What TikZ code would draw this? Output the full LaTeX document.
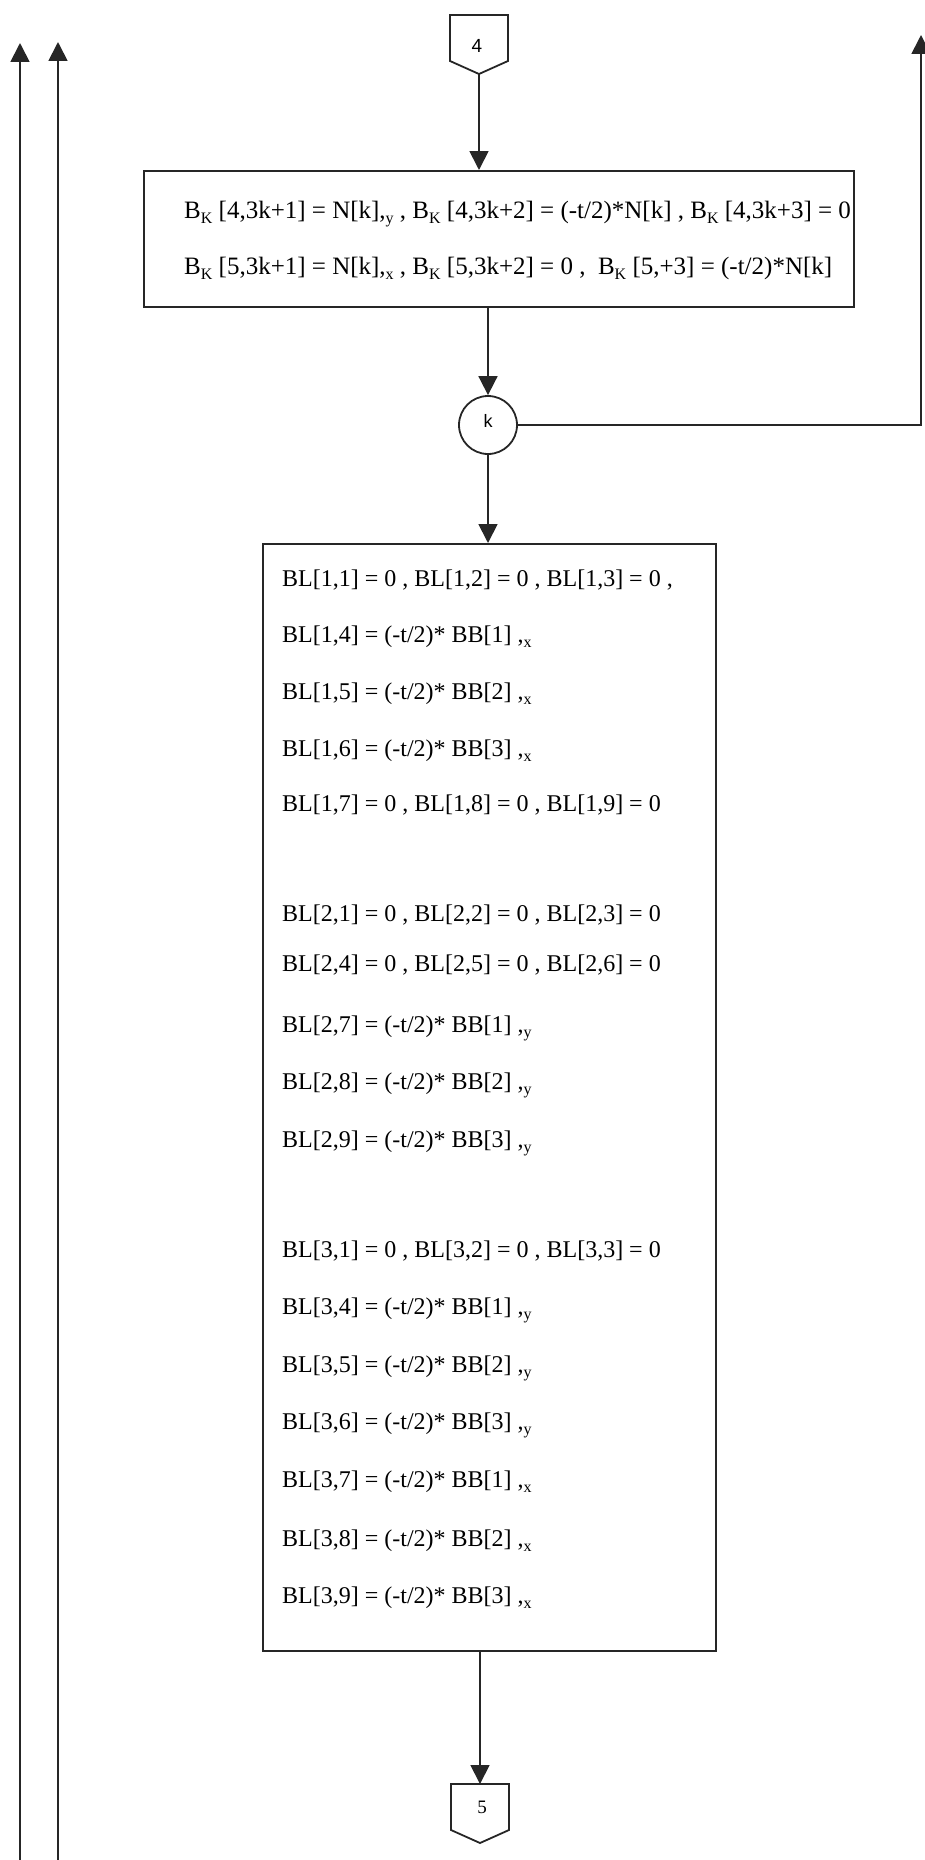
\documentclass[tikz,border=0pt]{standalone}
\usepackage{fontspec}
\setmainfont{Liberation Serif}
\newfontfamily\sansf{Liberation Sans}
\usetikzlibrary{arrows.meta}
\newcommand\lsub[1]{\raisebox{-5pt}{\fontsize{16pt}{16pt}\selectfont #1}}
\begin{document}
\begin{tikzpicture}[x=1pt,y=-1pt,
  flow/.style={line width=1.8pt, draw=black!85},
  arr/.style={flow, -{Triangle[length=19pt,width=19pt]}},
  boxst/.style={draw=black!85, line width=1.8pt, inner sep=0pt, anchor=north west},
  txt/.style={anchor=base west, inner sep=0pt, font=\fontsize{24pt}{28pt}\selectfont},
  lbl/.style={inner sep=0pt, font=\fontsize{19pt}{22pt}\selectfont}]
\useasboundingbox (0,0) rectangle (924,1860);

% connector 4
\draw[flow, line join=miter] (450,15) -- (508,15) -- (508,61) -- (479,74) -- (450,61) -- cycle;
\node[lbl, font=\sansf\fontsize{19pt}{22pt}\selectfont] (p4) at (477,46) {4};
\coordinate (p4s) at (479,74);

% box 1
\node[boxst, minimum width=710pt, minimum height=136pt] (box1) at (143,170) {};
\node[txt, font=\fontsize{25pt}{28pt}\selectfont] (b1) at (184,218) {B\lsub{K} [4,3k+1] = N[k],\lsub{y} , B\lsub{K} [4,3k+2] = (-t/2)*N[k] , B\lsub{K} [4,3k+3] = 0};
\node[txt, font=\fontsize{25pt}{28pt}\selectfont] (b2) at (184,274) {B\lsub{K} [5,3k+1] = N[k],\lsub{x} , B\lsub{K} [5,3k+2] = 0 ,\ \ B\lsub{K} [5,+3] = (-t/2)*N[k]};

% circle k
\node[draw=black!85, line width=1.8pt, circle, minimum size=58pt, inner sep=0pt] (k) at (488,425) {};
\node[lbl, font=\sansf\fontsize{18pt}{22pt}\selectfont] (kl) at (488,421) {k};

% BL box
\node[boxst, minimum width=453pt, minimum height=1107pt] (bl) at (262,543) {};
\foreach \n/\yy/\t in {
 t1/586/{BL[1,1] = 0 , BL[1,2] = 0 , BL[1,3] = 0 ,},
 t2/642/{BL[1,4] = (-t/2)* BB[1] ,\lsub{x}},
 t3/699/{BL[1,5] = (-t/2)* BB[2] ,\lsub{x}},
 t4/756/{BL[1,6] = (-t/2)* BB[3] ,\lsub{x}},
 t5/811/{BL[1,7] = 0 , BL[1,8] = 0 , BL[1,9] = 0},
 t6/921/{BL[2,1] = 0 , BL[2,2] = 0 , BL[2,3] = 0},
 t7/971/{BL[2,4] = 0 , BL[2,5] = 0 , BL[2,6] = 0},
 t8/1032/{BL[2,7] = (-t/2)* BB[1] ,\lsub{y}},
 t9/1089/{BL[2,8] = (-t/2)* BB[2] ,\lsub{y}},
 t10/1147/{BL[2,9] = (-t/2)* BB[3] ,\lsub{y}},
 t11/1257/{BL[3,1] = 0 , BL[3,2] = 0 , BL[3,3] = 0},
 t12/1314/{BL[3,4] = (-t/2)* BB[1] ,\lsub{y}},
 t13/1372/{BL[3,5] = (-t/2)* BB[2] ,\lsub{y}},
 t14/1429/{BL[3,6] = (-t/2)* BB[3] ,\lsub{y}},
 t15/1487/{BL[3,7] = (-t/2)* BB[1] ,\lsub{x}},
 t16/1546/{BL[3,8] = (-t/2)* BB[2] ,\lsub{x}},
 t17/1603/{BL[3,9] = (-t/2)* BB[3] ,\lsub{x}}}
 {\node[txt] (\n) at (282,\yy) {\t};}

% connector 5
\draw[flow, line join=miter] (451,1784) -- (509,1784) -- (509,1830) -- (480,1843) -- (451,1830) -- cycle;
\node[lbl] (p5) at (482,1807) {5};
\coordinate (p5n) at (480,1784);

% side lines
\coordinate (la) at (20,43);
\coordinate (la0) at (20,1870);
\coordinate (lb) at (58,42);
\coordinate (lb0) at (58,1870);
\coordinate (rt) at (921,35);

% connectors
\draw[arr] (p4s) -- (p4s |- box1.north);
\draw[arr] (box1.south -| k) -- (k.north);
\draw[arr] (k.south) -- (k.south |- bl.north);
\draw[arr] (bl.south -| p5n) -- (p5n);
\draw[arr] (k.east) -| (rt);
\draw[arr] (la0) -- (la);
\draw[arr] (lb0) -- (lb);
\end{tikzpicture}
\end{document}
